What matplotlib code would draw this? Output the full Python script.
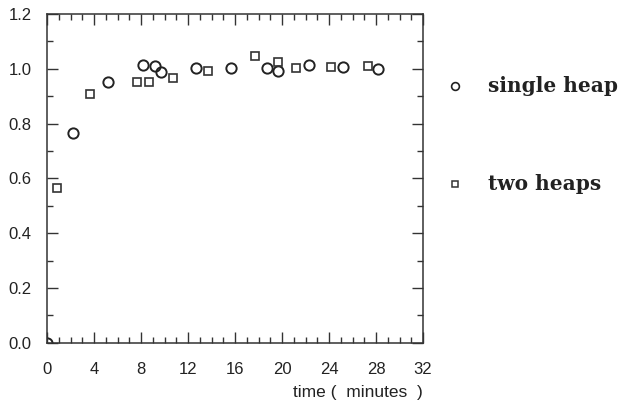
import matplotlib
matplotlib.use("Agg")
import matplotlib.pyplot as plt
from matplotlib.ticker import MultipleLocator

single_t = [0.0, 2.2, 5.2, 8.2, 9.15, 9.7, 12.7, 15.7, 18.7, 19.7, 22.3, 25.2, 28.2]
single_v = [0.0, 0.766, 0.951, 1.014, 1.010, 0.988, 1.002, 1.002, 1.002, 0.993, 1.014, 1.008, 0.998]
two_t = [0.86, 3.7, 7.65, 8.65, 10.7, 13.7, 17.7, 19.7, 21.2, 24.2, 27.3]
two_v = [0.564, 0.908, 0.953, 0.953, 0.965, 0.993, 1.047, 1.024, 1.004, 1.008, 1.011]

xticks = [0, 4, 8, 12, 16, 20, 24, 28, 32]
yticks = [0.0, 0.2, 0.4, 0.6, 0.8, 1.0, 1.2]
labels = ["single heap", "two heaps"]

plt.rcParams['font.family'] = ['Liberation Sans', 'DejaVu Sans']

fig = plt.figure(figsize=(6.28, 4.04), dpi=100)
ax = fig.add_axes([47/628, 1 - 342.7/404, (423-47)/628, (342.7-14)/404])

ax.plot(single_t, single_v, 'o', ms=7.4, mfc='none', mec='#222222', mew=1.4, clip_on=True)
ax.plot(two_t, two_v, 's', ms=5.9, mfc='none', mec='#333333', mew=1.2, clip_on=True)

ax.set_xlim(0, 32)
ax.set_ylim(0, 1.2)
ax.set_xticks(xticks)
ax.set_yticks(yticks)
ax.set_yticklabels([f"{v:.1f}" for v in yticks])
ax.xaxis.set_minor_locator(MultipleLocator(1))
ax.yaxis.set_minor_locator(MultipleLocator(0.1))
ax.tick_params(which='both', direction='in', top=True, right=True, color='#333333', width=1.0)
ax.tick_params(which='major', length=8, labelsize=12, labelcolor='#222222')
ax.tick_params(axis='x', which='major', pad=14)
ax.tick_params(axis='y', which='major', pad=11)
ax.tick_params(which='minor', length=4)
for s in ax.spines.values():
    s.set_color('#333333')
    s.set_linewidth(1.1)

ax.text(1.0, -0.128, "time (  minutes  )", transform=ax.transAxes, ha='right', va='top',
        fontsize=12.5, color='#222222')

# legend
fig.lines.append(plt.Line2D([455/628], [1 - 86/404], marker='o', ms=5.6, mfc='none',
                            mec='#222222', mew=1.2, transform=fig.transFigure, ls='none'))
fig.lines.append(plt.Line2D([455/628], [1 - 184/404], marker='s', ms=4.8, mfc='none',
                            mec='#333333', mew=1.1, transform=fig.transFigure, ls='none'))
fig.text(488/628, 1 - 86/404, labels[0], family='DejaVu Serif', fontweight='bold',
         fontsize=14.5, va='center', ha='left', color='#222222')
fig.text(488/628, 1 - 184/404, labels[1], family='DejaVu Serif', fontweight='bold',
         fontsize=14.5, va='center', ha='left', color='#222222')

fig.savefig("out.png", dpi=100)
